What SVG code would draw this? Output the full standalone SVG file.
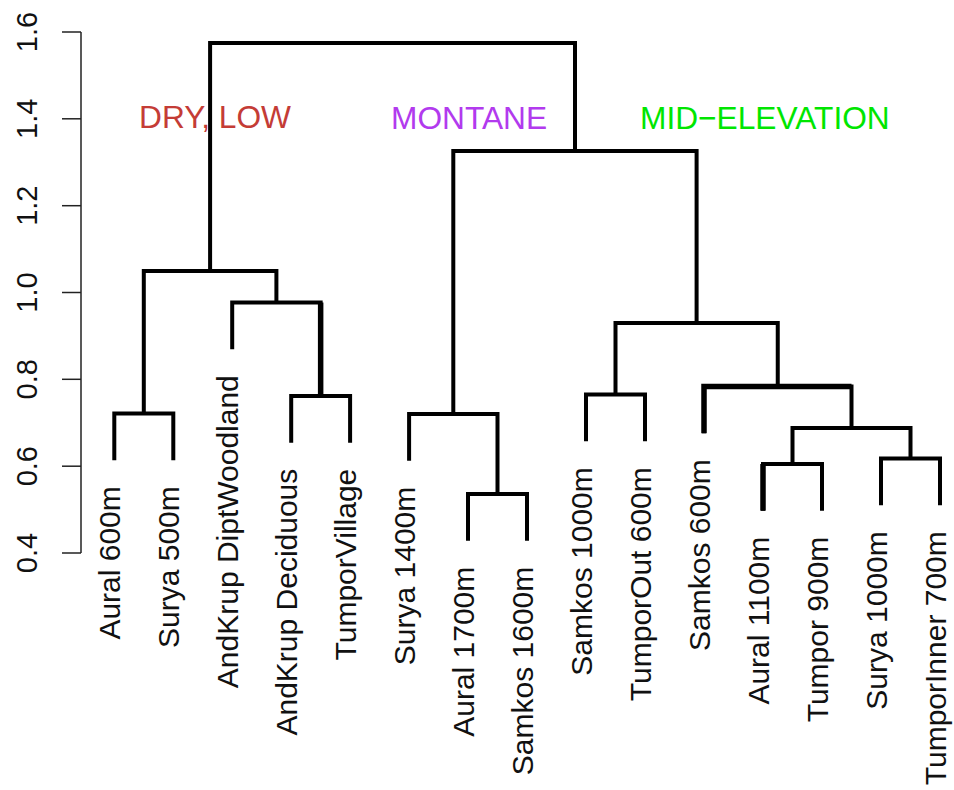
<svg xmlns="http://www.w3.org/2000/svg" width="954" height="790" viewBox="0 0 954 790">
<style>
  text { font-family: "Liberation Sans", Arial, Helvetica, sans-serif; }
  .axis line { stroke: #222; stroke-width: 1.5; }
  .ax { font-size: 29px; fill: #111; text-anchor: middle; }
  .leaf { font-size: 30px; fill: #111; text-anchor: end; }
  .grp { font-size: 31.7px; text-anchor: start; }
  .edges polyline { fill: none; stroke: #000; stroke-width: 4; stroke-linejoin: miter; stroke-linecap: butt; }
  .edges polyline.thick { stroke-width: 5.5; }
</style>
<rect width="954" height="790" fill="#fff"/>

<g id="axis" class="axis">
  <line x1="81" y1="32" x2="81" y2="553"/>
  <line x1="62" y1="32" x2="81" y2="32"/>
  <line x1="62" y1="118.8" x2="81" y2="118.8"/>
  <line x1="62" y1="205.7" x2="81" y2="205.7"/>
  <line x1="62" y1="292.5" x2="81" y2="292.5"/>
  <line x1="62" y1="379.3" x2="81" y2="379.3"/>
  <line x1="62" y1="466.2" x2="81" y2="466.2"/>
  <line x1="62" y1="553" x2="81" y2="553"/>
  <text class="ax" transform="translate(37,32) rotate(-90)">1.6</text>
  <text class="ax" transform="translate(37,118.8) rotate(-90)">1.4</text>
  <text class="ax" transform="translate(37,205.7) rotate(-90)">1.2</text>
  <text class="ax" transform="translate(37,292.5) rotate(-90)">1.0</text>
  <text class="ax" transform="translate(37,379.3) rotate(-90)">0.8</text>
  <text class="ax" transform="translate(37,466.2) rotate(-90)">0.6</text>
  <text class="ax" transform="translate(37,553) rotate(-90)">0.4</text>
</g>

<g id="connectors" class="edges">
  <polyline points="114.3,460.2 114.3,413.5 173.3,413.5 173.3,460.2"/>
  <polyline points="291.2,442.7 291.2,396 350.1,396 350.1,442.7"/>
  <polyline points="232.2,349.2 232.2,302.5 320.65,302.5 320.65,396"/>
  <polyline class="thick" points="320.65,302.5 320.65,396"/>
  <polyline points="143.8,413.5 143.8,271 276.4,271 276.4,302.5"/>
  <polyline points="468,540.7 468,494 527,494 527,540.7"/>
  <polyline points="409.1,460.7 409.1,414 497.5,414 497.5,494"/>
  <polyline points="586,441.2 586,394.5 645,394.5 645,441.2"/>
  <polyline points="763,510.7 763,464 822,464 822,510.7"/>
  <polyline class="thick" points="763,510.7 763,464"/>
  <polyline points="881,505.2 881,458.5 940,458.5 940,505.2"/>
  <polyline points="792.5,464 792.5,428 910.5,428 910.5,458.5"/>
  <polyline points="704,433.2 704,386.5 851.5,386.5 851.5,428"/>
  <polyline class="thick" points="704,433.2 704,386.5 851.5,386.5"/>
  <polyline points="615.5,394.5 615.5,323 777.75,323 777.75,386.5"/>
  <polyline points="453.3,414 453.3,151 696.6,151 696.6,323"/>
  <polyline points="210.1,271 210.1,43 575,43 575,151"/>
</g>

<g id="leaf-aural-600m"><text class="leaf" transform="translate(120.3,486.2) rotate(-90)">Aural 600m</text></g>
<g id="leaf-surya-500m"><text class="leaf" transform="translate(179.3,486.2) rotate(-90)">Surya 500m</text></g>
<g id="leaf-andkrup-diptwoodland"><text class="leaf" transform="translate(238.2,375.2) rotate(-90)">AndKrup DiptWoodland</text></g>
<g id="leaf-andkrup-deciduous"><text class="leaf" transform="translate(297.2,468.7) rotate(-90)">AndKrup Deciduous</text></g>
<g id="leaf-tumporvillage"><text class="leaf" transform="translate(356.1,468.7) rotate(-90)">TumporVillage</text></g>
<g id="leaf-surya-1400m"><text class="leaf" transform="translate(415.1,486.7) rotate(-90)">Surya 1400m</text></g>
<g id="leaf-aural-1700m"><text class="leaf" transform="translate(474,566.7) rotate(-90)">Aural 1700m</text></g>
<g id="leaf-samkos-1600m"><text class="leaf" transform="translate(533,566.7) rotate(-90)">Samkos 1600m</text></g>
<g id="leaf-samkos-1000m"><text class="leaf" transform="translate(592,467.2) rotate(-90)">Samkos 1000m</text></g>
<g id="leaf-tumporout-600m"><text class="leaf" transform="translate(651,467.2) rotate(-90)">TumporOut 600m</text></g>
<g id="leaf-samkos-600m"><text class="leaf" transform="translate(710,459.2) rotate(-90)">Samkos 600m</text></g>
<g id="leaf-aural-1100m"><text class="leaf" transform="translate(769,536.7) rotate(-90)">Aural 1100m</text></g>
<g id="leaf-tumpor-900m"><text class="leaf" transform="translate(828,536.7) rotate(-90)">Tumpor 900m</text></g>
<g id="leaf-surya-1000m"><text class="leaf" transform="translate(887,531.2) rotate(-90)">Surya 1000m</text></g>
<g id="leaf-tumporinner-700m"><text class="leaf" transform="translate(946,531.2) rotate(-90)">TumporInner 700m</text></g>

<g id="group-labels">
  <text class="grp" x="139" y="128" fill="#C43C36">DRY, LOW</text>
  <text class="grp" x="391" y="129" fill="#B23AEE">MONTANE</text>
  <text class="grp" x="640" y="129" fill="#00E600">MID−ELEVATION</text>
</g>
</svg>
